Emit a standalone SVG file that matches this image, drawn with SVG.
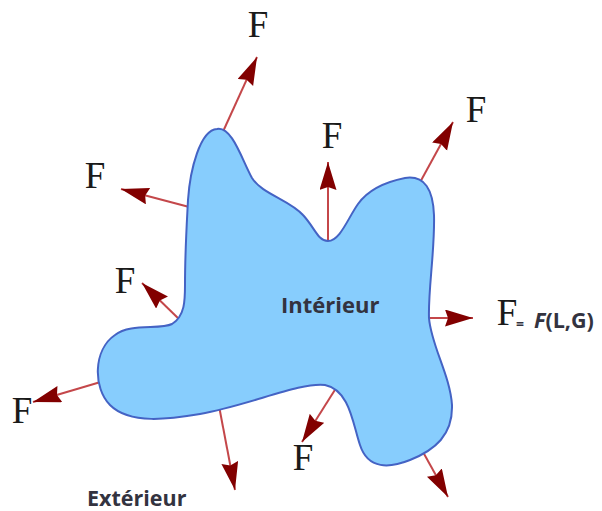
<svg xmlns="http://www.w3.org/2000/svg" width="602" height="511" viewBox="0 0 602 511">
<style>
.shaft{stroke:#c4474a;stroke-width:2;fill:none;marker-end:url(#head)}
.f{font-family:"Liberation Serif",serif;font-size:37px;fill:#1a1a1a;text-anchor:middle}
.lbl{font-family:"Open Sans","Liberation Sans",sans-serif;font-weight:bold;fill:#333340}
</style>
<defs>
<marker id="head" markerUnits="userSpaceOnUse" markerWidth="30" markerHeight="18" refX="28" refY="8.5" orient="auto">
<path d="M0,0 L28,8.5 L0,17 L3,8.5 Z" fill="#820000"/>
</marker>
</defs>
<rect width="602" height="511" fill="#ffffff"/>
<g id="connectors">
<line class="shaft" x1="221" y1="136" x2="257" y2="57"/>
<line class="shaft" x1="193" y1="208" x2="121" y2="189"/>
<line class="shaft" x1="182" y1="322" x2="142" y2="283"/>
<line class="shaft" x1="104" y1="381" x2="33" y2="402"/>
<line class="shaft" x1="219" y1="406" x2="235" y2="490"/>
<line class="shaft" x1="338" y1="385" x2="302" y2="442"/>
<line class="shaft" x1="418" y1="443" x2="448" y2="497"/>
<line class="shaft" x1="328" y1="245" x2="328" y2="162"/>
<line class="shaft" x1="418" y1="186" x2="453" y2="122"/>
<line class="shaft" x1="423" y1="318" x2="473" y2="318"/>
</g>
<g id="body">
<path d="M217,129 C232,126 242,160 252,178 C262,194 290,200 303,215 C315,228 318,241 328,241 C340,241 348,218 358,204 C368,190 385,182 405,178 C425,175 433,190 434,215 C435,250 428,290 429,318 C431,345 450,375 452,405 C453,435 435,450 410,460 C390,468 368,470 360,445 C353,425 350,390 325,385 C300,382 250,405 200,414 C170,419 130,425 110,405 C93,388 93,350 115,335 C130,323 160,330 172,324 C185,316 185,300 185,285 C185,250 187,220 188,200 C190,170 200,130 217,129 Z" fill="#87cdfd" stroke="#4463c4" stroke-width="2"/>
<text class="lbl" x="281" y="313" font-size="22">Intérieur</text>
</g>
<g id="labels">
<text class="f" x="258" y="37">F</text>
<text class="f" x="95" y="188">F</text>
<text class="f" x="125" y="293">F</text>
<text class="f" x="22" y="423">F</text>
<text class="f" x="303" y="470">F</text>
<text class="f" x="332" y="148">F</text>
<text class="f" x="476" y="122">F</text>
<text class="f" x="507" y="325">F</text>
<text class="lbl" x="516" y="329" font-size="14">=</text>
<text class="lbl" x="534" y="328" font-size="21.5"><tspan font-style="italic">F</tspan>(L,G)</text>
<text class="lbl" x="87" y="506" font-size="21.5">Extérieur</text>
</g>
</svg>
